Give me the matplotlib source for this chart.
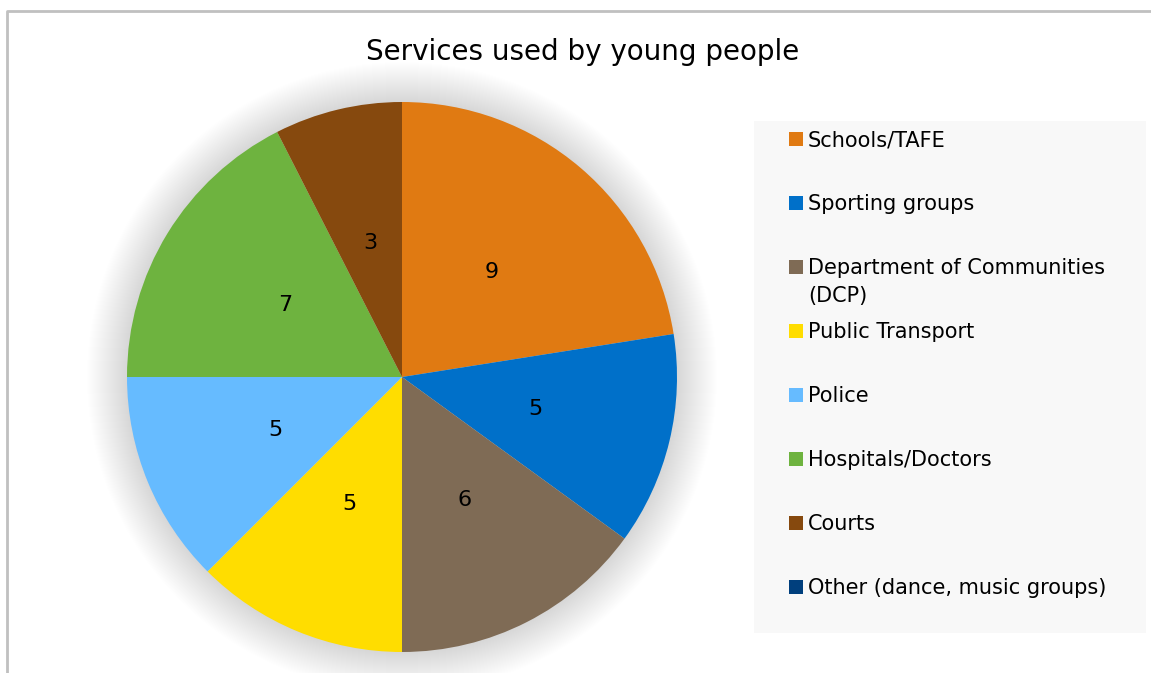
import numpy as np
import matplotlib.pyplot as plt
from matplotlib.patches import Circle, Rectangle

# Data
services = ['Schools/TAFE', 'Sporting groups', 'Department of Communities\n(DCP)',
            'Public Transport', 'Police', 'Hospitals/Doctors', 'Courts',
            'Other (dance, music groups)']
counts = [9, 5, 6, 5, 5, 7, 3, 0]
colors = ['#E07A12', '#0070C9', '#7F6B55', '#FFDD00', '#66BBFF',
          '#6EB33F', '#86490E', '#003F7D']
title = 'Services used by young people'

W, H = 1151, 673
fig = plt.figure(figsize=(W / 100, H / 100), dpi=100)
ax = fig.add_axes([0, 0, 1, 1])

cx, cy, r = 402, H - 377, 275

# soft shadow around the pie
for k in range(40):
    ax.add_patch(Circle((cx, cy), r + 1 + k * 1.0, color='#000000',
                        alpha=0.004, lw=0, zorder=1))

total = sum(counts)


def fmt(pct):
    v = int(round(pct * total / 100))
    return str(v) if v > 0 else ''


wedges, _, autotexts = ax.pie(counts, colors=colors, startangle=90, counterclock=False,
                              center=(cx, cy), radius=r, autopct=fmt, pctdistance=0.5,
                              wedgeprops=dict(linewidth=0),
                              textprops=dict(fontsize=16, color='black'), frame=True)
for w in wedges:
    w.set_zorder(3)
for t in autotexts:
    t.set_zorder(4)
ax.set_xlim(0, W)
ax.set_ylim(0, H)
ax.set_aspect('equal')
ax.axis('off')

ax.text(583, H - 52, title, ha='center', va='center', fontsize=20, color='black')

# legend panel
ax.add_patch(Rectangle((754, H - 633), 392, 512, color='#F8F8F8', lw=0, zorder=1))
for i, (lab, col) in enumerate(zip(services, colors)):
    yc = 139 + 64 * i
    ax.add_patch(Rectangle((789, H - yc - 7), 14, 14, color=col, lw=0, zorder=3))
    # one text per line so the first line sits next to the marker
    for j, line in enumerate(lab.split('\n')):
        ax.text(808, H - yc - 7 - 28 * j, line, ha='left', va='baseline',
                fontsize=15, color='black', zorder=4)

# chart border
ax.plot([7, 7, W + 5], [-5, H - 11, H - 11], color='#C0C0C0', lw=2, zorder=5)

fig.savefig('out.png', dpi=100)
